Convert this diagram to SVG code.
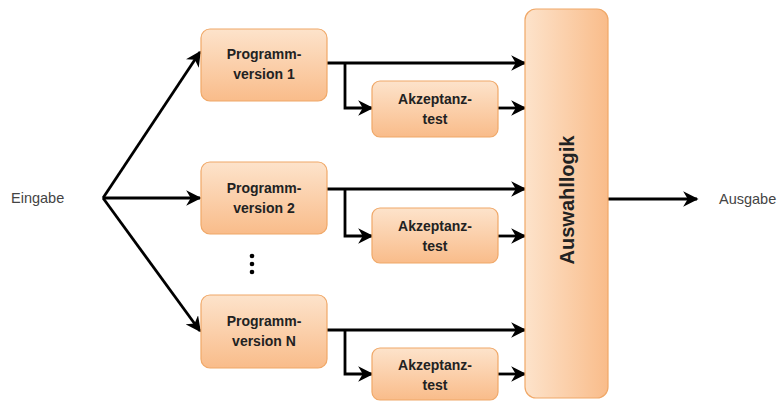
<svg xmlns="http://www.w3.org/2000/svg" width="781" height="405" viewBox="0 0 781 405">
<defs>
<linearGradient id="gv" x1="0" y1="0" x2="0" y2="1">
<stop offset="0" stop-color="#fde3cb"/>
<stop offset="1" stop-color="#f9bc8a"/>
</linearGradient>
<linearGradient id="gh" x1="0" y1="0" x2="1" y2="0">
<stop offset="0" stop-color="#fde3cb"/>
<stop offset="1" stop-color="#f9bc8a"/>
</linearGradient>
<marker id="ah" viewBox="0 0 10 10" refX="9" refY="5" markerWidth="5.5" markerHeight="5.5" orient="auto" markerUnits="strokeWidth">
<path d="M0,0 L10,5 L0,10 L3,5 z" fill="#000"/>
</marker>
<style>
.box{fill:url(#gv);stroke:#f0a868;stroke-width:1.2}
.tall{fill:url(#gh);stroke:#f0a868;stroke-width:1.2}
.t{font-family:"Liberation Sans",Arial,sans-serif;font-weight:bold;font-size:14px;fill:#222;text-anchor:middle}
.lbl{font-family:"Liberation Sans",Arial,sans-serif;font-size:14.5px;fill:#444}
.c{fill:none;stroke:#000;stroke-width:2.8;marker-end:url(#ah)}
</style>
</defs>
<rect width="781" height="405" fill="#fff"/>

<g id="connectors">
<path class="c" d="M103,198 L200,52"/>
<path class="c" d="M103,198 L200,198"/>
<path class="c" d="M103,198 L200,331"/>
<path class="c" d="M327,63 L525,63"/>
<path class="c" d="M345,63 L345,108 L372,108"/>
<path class="c" d="M498,108 L525,108"/>
<path class="c" d="M327,189 L525,189"/>
<path class="c" d="M345,189 L345,236 L372,236"/>
<path class="c" d="M498,236 L525,236"/>
<path class="c" d="M327,330 L525,330"/>
<path class="c" d="M345,330 L345,374 L372,374"/>
<path class="c" d="M498,374 L525,374"/>
<path class="c" d="M608,199 L697,199"/>
</g>

<g id="eingabe"><text class="lbl" x="11" y="203">Eingabe</text></g>
<g id="ausgabe"><text class="lbl" x="719" y="204">Ausgabe</text></g>

<g id="pv1">
<rect class="box" x="201" y="29" width="126" height="72" rx="9"/>
<text class="t" x="264" y="59">Programm-</text>
<text class="t" x="264" y="79">version 1</text>
</g>
<g id="at1">
<rect class="box" x="372" y="81" width="126" height="56" rx="8"/>
<text class="t" x="435" y="104">Akzeptanz-</text>
<text class="t" x="435" y="124">test</text>
</g>

<g id="pv2">
<rect class="box" x="201" y="162" width="126" height="72" rx="9"/>
<text class="t" x="264" y="193">Programm-</text>
<text class="t" x="264" y="213">version 2</text>
</g>
<g id="at2">
<rect class="box" x="372" y="208" width="126" height="55" rx="8"/>
<text class="t" x="435" y="231">Akzeptanz-</text>
<text class="t" x="435" y="251">test</text>
</g>

<g id="dots">
<circle cx="252" cy="256" r="2.3" fill="#000"/>
<circle cx="252" cy="264" r="2.3" fill="#000"/>
<circle cx="252" cy="272" r="2.3" fill="#000"/>
</g>

<g id="pvN">
<rect class="box" x="201" y="295" width="126" height="73" rx="9"/>
<text class="t" x="264" y="326">Programm-</text>
<text class="t" x="264" y="346">version N</text>
</g>
<g id="atN">
<rect class="box" x="372" y="348" width="126" height="52" rx="8"/>
<text class="t" x="435" y="370">Akzeptanz-</text>
<text class="t" x="435" y="390">test</text>
</g>

<g id="auswahllogik">
<rect class="tall" x="525" y="9" width="83" height="389" rx="11"/>
<text class="t" transform="translate(574,200) rotate(-90)" x="0" y="0" style="font-size:20px">Auswahllogik</text>
</g>
</svg>
